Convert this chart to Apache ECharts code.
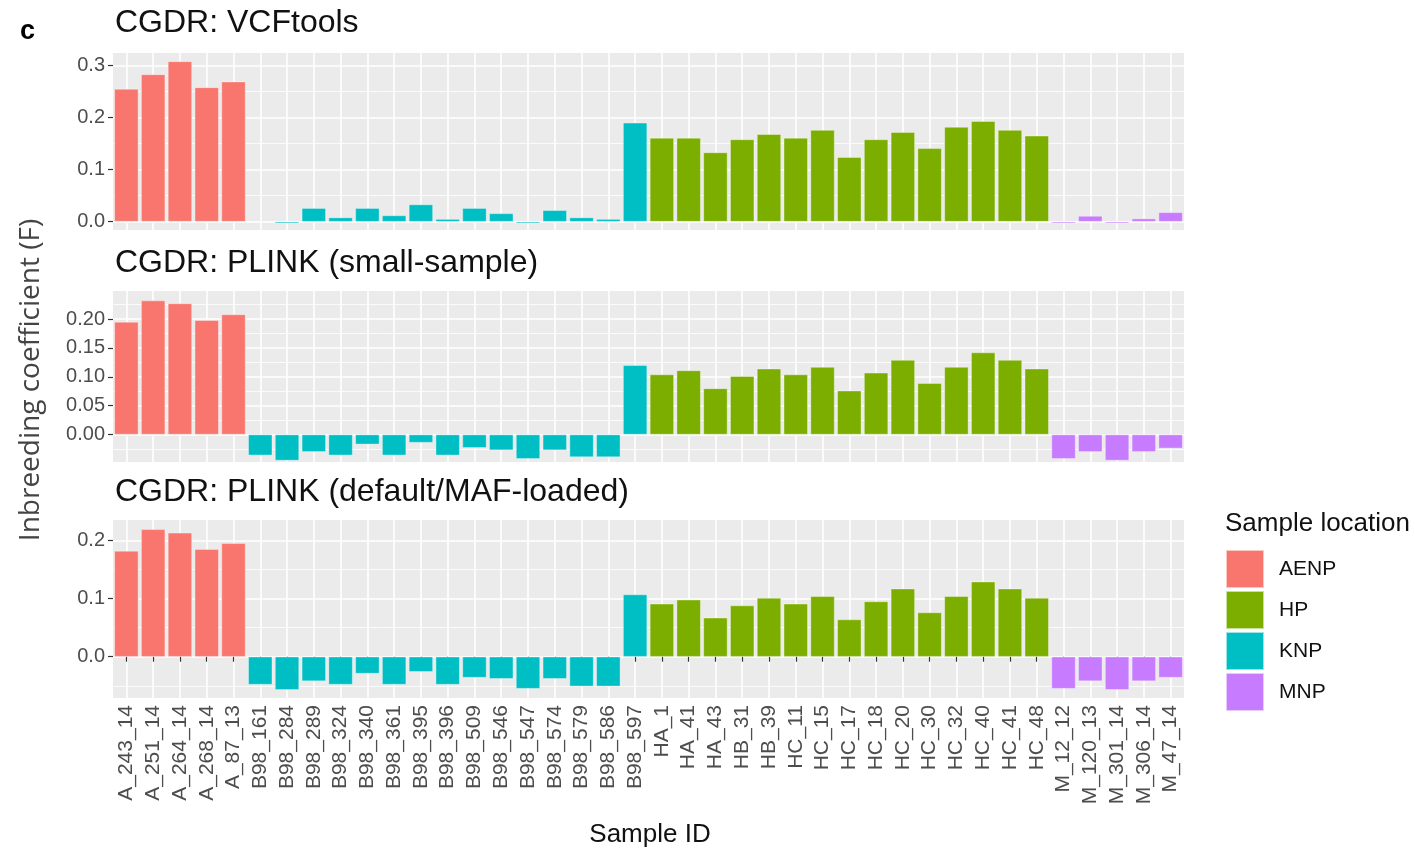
<!DOCTYPE html>
<html>
<head>
<meta charset="utf-8">
<script src="https://cdn.jsdelivr.net/npm/echarts@6/dist/echarts.min.js"></script>
<style>
html,body{margin:0;padding:0;background:#fff;}
#chart{width:1415px;height:849px;}
</style>
</head>
<body>
<div id="chart"></div>
<script>
// ---------------- data ----------------
const categories = ['A_243_14','A_251_14','A_264_14','A_268_14','A_87_13',
  'B98_161','B98_284','B98_289','B98_324','B98_340','B98_361','B98_395','B98_396','B98_509','B98_546','B98_547','B98_574','B98_579','B98_586','B98_597',
  'HA_1','HA_41','HA_43','HB_31','HB_39','HC_11','HC_15','HC_17','HC_18','HC_20','HC_30','HC_32','HC_40','HC_41','HC_48',
  'M_12_12','M_120_13','M_301_14','M_306_14','M_47_14'];
const locations = ['AENP','AENP','AENP','AENP','AENP',
  'KNP','KNP','KNP','KNP','KNP','KNP','KNP','KNP','KNP','KNP','KNP','KNP','KNP','KNP','KNP',
  'HP','HP','HP','HP','HP','HP','HP','HP','HP','HP','HP','HP','HP','HP','HP',
  'MNP','MNP','MNP','MNP','MNP'];
const legendOrder = ['AENP','HP','KNP','MNP'];
const vcftools = [0.255,0.283,0.308,0.258,0.269,
  0,-0.003,0.026,0.008,0.026,0.012,0.033,0.005,0.026,0.016,-0.003,0.022,0.008,0.005,0.190,
  0.161,0.161,0.133,0.158,0.168,0.161,0.176,0.124,0.158,0.172,0.141,0.182,0.193,0.176,0.165,
  -0.003,0.011,-0.003,0.006,0.018];
const plinkSmall = [0.195,0.232,0.227,0.198,0.208,
  -0.036,-0.045,-0.030,-0.036,-0.017,-0.036,-0.014,-0.036,-0.023,-0.027,-0.042,-0.027,-0.039,-0.039,0.120,
  0.104,0.111,0.080,0.101,0.114,0.104,0.117,0.076,0.107,0.129,0.089,0.117,0.142,0.129,0.114,
  -0.042,-0.030,-0.045,-0.030,-0.024];
const plinkDefault = [0.182,0.219,0.213,0.185,0.195,
  -0.048,-0.057,-0.042,-0.048,-0.029,-0.048,-0.026,-0.048,-0.036,-0.038,-0.055,-0.038,-0.051,-0.051,0.107,
  0.091,0.098,0.067,0.088,0.101,0.091,0.104,0.064,0.095,0.117,0.076,0.104,0.129,0.117,0.101,
  -0.055,-0.042,-0.057,-0.042,-0.036];
const panelTitles = ['CGDR: VCFtools','CGDR: PLINK (small-sample)','CGDR: PLINK (default/MAF-loaded)'];
const ticksVcf = [0, 0.1, 0.2, 0.3];
const minorVcf = [0.05, 0.15, 0.25];
const ticksSmall = [0, 0.05, 0.10, 0.15, 0.20];
const minorSmall = [-0.025, 0.025, 0.075, 0.125, 0.175, 0.225];
const ticksDefault = [0, 0.1, 0.2];
const minorDefault = [-0.05, 0.05, 0.15];

// ---------------- styling / layout ----------------
const colors = {AENP:'#F8766D', HP:'#7CAE00', KNP:'#00BFC4', MNP:'#C77CFF'};
const panelValues = [vcftools, plinkSmall, plinkDefault];
const panelTicks = [ticksVcf, ticksSmall, ticksDefault];
const panelMinor = [minorVcf, minorSmall, minorDefault];
const panelDigits = [1, 2, 1];
const panels = [
  {top: 53, height: 177, min: -0.016, max: 0.324, titleY: 23},
  {top: 291, height: 171, min: -0.0475, max: 0.2485, titleY: 263},
  {top: 520, height: 178, min: -0.071, max: 0.235, titleY: 492}
];
const gridLeft = 113, gridRight = 231;
const FONT = 'Liberation Sans, Arial, sans-serif';

const grids = [], xAxes = [], yAxes = [], series = [], graphics = [];
panels.forEach((p, i) => {
  grids.push({left: gridLeft, right: gridRight, top: p.top, height: p.height,
    show: true, backgroundColor: '#EBEBEB', borderWidth: 0, containLabel: false});
  const isBottom = i === panels.length - 1;
  xAxes.push({
    type: 'category', gridIndex: i, data: categories, boundaryGap: true,
    axisLine: {show: false},
    axisTick: {show: isBottom, alignWithLabel: true, interval: 0, length: 5, lineStyle: {color: '#333', width: 1.2}},
    axisLabel: {show: isBottom, rotate: 90, interval: 0, fontSize: 21, color: '#4D4D4D', margin: 7, fontFamily: FONT},
    splitLine: {show: true, alignWithLabel: true, interval: 0, lineStyle: {color: '#FFFFFF', width: 1.6}}
  });
  const digits = panelDigits[i];
  yAxes.push({
    type: 'value', gridIndex: i, min: p.min, max: p.max, position: 'left',
    axisLine: {show: false},
    axisTick: {show: true, length: 5, customValues: panelTicks[i], lineStyle: {color: '#333', width: 1.2}},
    axisLabel: {show: true, customValues: panelTicks[i], fontSize: 20, color: '#4D4D4D', margin: 8, fontFamily: FONT,
      formatter: v => Number(v).toFixed(digits)},
    splitLine: {show: true, lineStyle: {color: '#FFFFFF', width: 1.6}}
  });
  graphics.push({type: 'text', x: 115, y: p.titleY,
    style: {text: panelTitles[i], fontSize: 32, fill: '#111', verticalAlign: 'middle', fontFamily: FONT}});
});
// minor gridline axes
panels.forEach((p, i) => {
  yAxes.push({
    type: 'value', gridIndex: i, min: p.min, max: p.max, position: 'left',
    axisLine: {show: false},
    axisTick: {show: false, customValues: panelMinor[i]},
    axisLabel: {show: false},
    splitLine: {show: true, lineStyle: {color: '#FFFFFF', width: 0.8}}
  });
});

panels.forEach((p, i) => {
  legendOrder.forEach(loc => {
    series.push({
      type: 'bar', name: loc, xAxisIndex: i, yAxisIndex: i, stack: 'panel' + i,
      barCategoryGap: '10%',
      itemStyle: {color: colors[loc], borderColor: 'rgba(255,255,255,0.6)', borderWidth: 0.6},
      data: panelValues[i].map((v, k) => locations[k] === loc ? v : null),
      silent: true
    });
  });
});

graphics.push(
  {type: 'text', x: 20, y: 32, style: {text: 'c', fontSize: 27, fontWeight: 'bold', fill: '#000', verticalAlign: 'middle', fontFamily: FONT}},
  {type: 'text', x: 31, y: 380, rotation: Math.PI / 2,
    style: {text: 'Inbreeding coefficient (F)', fontSize: 28, fill: '#444', align: 'center', verticalAlign: 'middle', fontFamily: 'Open Sans, Noto Sans, sans-serif'}},
  {type: 'text', x: 650, y: 835,
    style: {text: 'Sample ID', fontSize: 26, fill: '#111', align: 'center', verticalAlign: 'middle', fontFamily: FONT}},
  {type: 'text', x: 1225, y: 524,
    style: {text: 'Sample location', fontSize: 26, fill: '#111', align: 'left', verticalAlign: 'middle', fontFamily: FONT}}
);

const chart = echarts.init(document.getElementById('chart'), null, {renderer: 'canvas'});
chart.setOption({
  animation: false,
  backgroundColor: '#FFFFFF',
  grid: grids,
  xAxis: xAxes,
  yAxis: yAxes,
  series: series,
  legend: {
    data: legendOrder, orient: 'vertical', left: 1225, top: 549, padding: 0,
    icon: 'rect', itemWidth: 38, itemHeight: 38, itemGap: 1, selectedMode: false,
    textStyle: {fontSize: 21, color: '#111', padding: [0, 0, 0, 10], fontFamily: FONT}
  },
  graphic: graphics
});
</script>
</body>
</html>
